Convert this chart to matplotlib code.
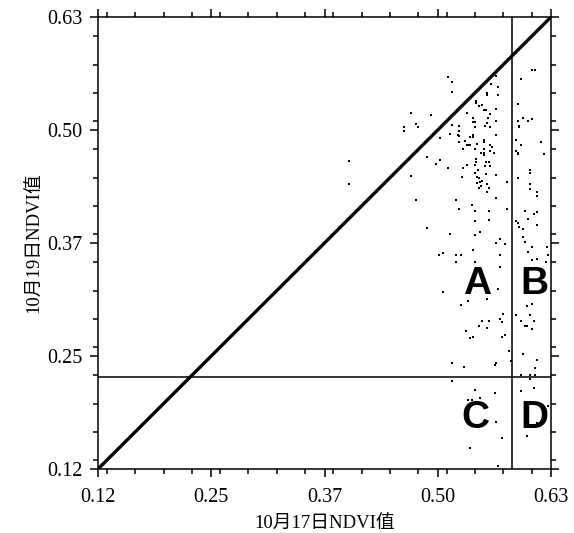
import numpy as np
import matplotlib.pyplot as plt
from matplotlib.ticker import MultipleLocator

# NDVI on 17 Oct (x) and 19 Oct (y)
ndvi_1017 = [
    0.400, 0.400, 0.462, 0.462, 0.470, 0.470, 0.476, 0.478, 0.476, 0.488,
    0.488, 0.492, 0.498, 0.501, 0.503, 0.503, 0.506, 0.506, 0.512, 0.512,
    0.514, 0.514, 0.516, 0.516, 0.516, 0.516, 0.516, 0.520, 0.520, 0.520,
    0.523, 0.524, 0.524, 0.524, 0.524, 0.524, 0.526, 0.526, 0.527, 0.528,
    0.528, 0.530, 0.531, 0.532, 0.533, 0.533, 0.533, 0.534, 0.534, 0.534,
    0.536, 0.536, 0.536, 0.536, 0.538, 0.538, 0.540, 0.540, 0.540, 0.540,
    0.540, 0.540, 0.542, 0.542, 0.542, 0.542, 0.542, 0.542, 0.542, 0.542,
    0.542, 0.542, 0.543, 0.543, 0.543, 0.543, 0.544, 0.544, 0.544, 0.545,
    0.546, 0.546, 0.546, 0.547, 0.548, 0.548, 0.548, 0.549, 0.549, 0.550,
    0.550, 0.550, 0.552, 0.552, 0.552, 0.552, 0.552, 0.552, 0.553, 0.553,
    0.554, 0.554, 0.554, 0.556, 0.556, 0.556, 0.556, 0.556, 0.556, 0.556,
    0.557, 0.558, 0.558, 0.558, 0.558, 0.558, 0.559, 0.559, 0.559, 0.559,
    0.559, 0.560, 0.561, 0.563, 0.564, 0.564, 0.566, 0.566, 0.566, 0.566,
    0.566, 0.566, 0.566, 0.566, 0.566, 0.568, 0.568, 0.568, 0.568, 0.570,
    0.570, 0.570, 0.570, 0.572, 0.572, 0.572, 0.573, 0.576, 0.576, 0.578,
    0.578, 0.580, 0.583,
    0.588, 0.588, 0.588, 0.588, 0.590, 0.590, 0.590, 0.590, 0.590, 0.590,
    0.591, 0.592, 0.592, 0.594, 0.594, 0.594, 0.594, 0.594, 0.596, 0.596,
    0.596, 0.596, 0.598, 0.598, 0.598, 0.600, 0.600, 0.600, 0.602, 0.602,
    0.602, 0.602, 0.604, 0.604, 0.604, 0.604, 0.604, 0.604, 0.604, 0.606,
    0.606, 0.606, 0.606, 0.606, 0.606, 0.608, 0.608, 0.608, 0.610, 0.610,
    0.610, 0.612, 0.612, 0.612, 0.612, 0.612, 0.612, 0.612, 0.616, 0.620,
    0.622, 0.623, 0.624, 0.624,
]
ndvi_1019 = [
    0.465, 0.439, 0.503, 0.499, 0.519, 0.448, 0.507, 0.503, 0.421, 0.469,
    0.389, 0.517, 0.462, 0.359, 0.491, 0.466, 0.361, 0.317, 0.560, 0.457,
    0.496, 0.383, 0.554, 0.543, 0.506, 0.237, 0.217, 0.421, 0.359, 0.351,
    0.494, 0.505, 0.499, 0.493, 0.487, 0.411, 0.359, 0.303, 0.447, 0.479,
    0.457, 0.233, 0.488, 0.273, 0.519, 0.483, 0.461, 0.483, 0.307, 0.195,
    0.483, 0.492, 0.265, 0.141, 0.415, 0.195, 0.513, 0.509, 0.494, 0.492,
    0.365, 0.267, 0.509, 0.503, 0.479, 0.461, 0.451, 0.409, 0.397, 0.381,
    0.351, 0.207, 0.533, 0.531, 0.467, 0.464, 0.484, 0.447, 0.440, 0.455,
    0.446, 0.527, 0.279, 0.434, 0.441, 0.385, 0.198, 0.474, 0.437, 0.443,
    0.528, 0.285, 0.523, 0.489, 0.487, 0.478, 0.474, 0.472, 0.504, 0.459,
    0.523, 0.464, 0.450, 0.542, 0.540, 0.508, 0.439, 0.430, 0.309, 0.277,
    0.513, 0.464, 0.434, 0.409, 0.398, 0.285, 0.518, 0.503, 0.483, 0.476,
    0.459, 0.552, 0.481, 0.474, 0.235, 0.203, 0.561, 0.524, 0.510, 0.494,
    0.449, 0.423, 0.373, 0.237, 0.171, 0.548, 0.540, 0.321, 0.121, 0.377,
    0.359, 0.345, 0.287, 0.283, 0.267, 0.153, 0.292, 0.269, 0.371, 0.441,
    0.411, 0.251, 0.239,
    0.489, 0.476, 0.397, 0.291, 0.529, 0.510, 0.474, 0.473, 0.446, 0.395,
    0.391, 0.505, 0.503, 0.558, 0.483, 0.285, 0.223, 0.205, 0.514, 0.388,
    0.379, 0.247, 0.409, 0.374, 0.279, 0.301, 0.279, 0.155, 0.510, 0.400,
    0.362, 0.193, 0.455, 0.451, 0.439, 0.433, 0.291, 0.224, 0.219, 0.568,
    0.368, 0.512, 0.353, 0.304, 0.275, 0.405, 0.285, 0.209, 0.568, 0.231,
    0.223, 0.430, 0.425, 0.407, 0.393, 0.355, 0.241, 0.169, 0.487, 0.473,
    0.351, 0.368, 0.359, 0.189,
]

tick_values = [0.1175, 0.245, 0.3725, 0.50, 0.6275]
tick_labels = ['0.12', '0.25', '0.37', '0.50', '0.63']
x_split = 0.5836
y_split = 0.2213
quadrants = ['A', 'B', 'C', 'D']
quad_x = [0.5446, 0.6091, 0.5424, 0.6091]
quad_y = [0.3262, 0.3262, 0.1756, 0.1756]

serif_cjk = ['Liberation Serif', 'Noto Sans CJK SC']

fig = plt.figure(figsize=(5.74, 5.33), dpi=100)
ax = fig.add_axes([98 / 574, 64 / 533, 453 / 574, 452 / 533])

lo, hi = tick_values[0], tick_values[-1]
ax.scatter(ndvi_1017, ndvi_1019, s=3.5, marker='s', c='black', linewidths=0, zorder=3)
ax.plot([lo, hi], [lo, hi], color='black', lw=2.4, zorder=4)
ax.axvline(x_split, color='black', lw=1.1)
ax.axhline(y_split, color='black', lw=1.1)

for q, qx, qy in zip(quadrants, quad_x, quad_y):
    ax.text(qx, qy, q, ha='center', va='center', fontsize=28,
            fontweight='bold', family='Liberation Sans', zorder=5)

ax.set_xlim(lo, hi)
ax.set_ylim(lo, hi)
ax.set_xticks(tick_values)
ax.set_yticks(tick_values)
ax.set_xticklabels(tick_labels, family='Liberation Serif', fontsize=14.5)
ax.set_yticklabels(tick_labels, family='Liberation Serif', fontsize=14.5)
ax.xaxis.set_minor_locator(MultipleLocator(0.031875))
ax.yaxis.set_minor_locator(MultipleLocator(0.031875))
ax.tick_params(which='both', direction='out', top=True, right=True, width=1.1)
ax.tick_params(which='major', length=6)
ax.tick_params(axis='x', which='major', pad=8)
ax.tick_params(axis='y', which='major', pad=5)
ax.tick_params(which='minor', length=3.5)
for sp in ax.spines.values():
    sp.set_linewidth(1.1)

ax.set_xlabel('10月17日NDVI值', family=serif_cjk, fontsize=13.5, labelpad=6)
ax.set_ylabel('10月19日NDVI值', family=serif_cjk, fontsize=13.5, labelpad=3)

fig.savefig('out.png', dpi=100)
